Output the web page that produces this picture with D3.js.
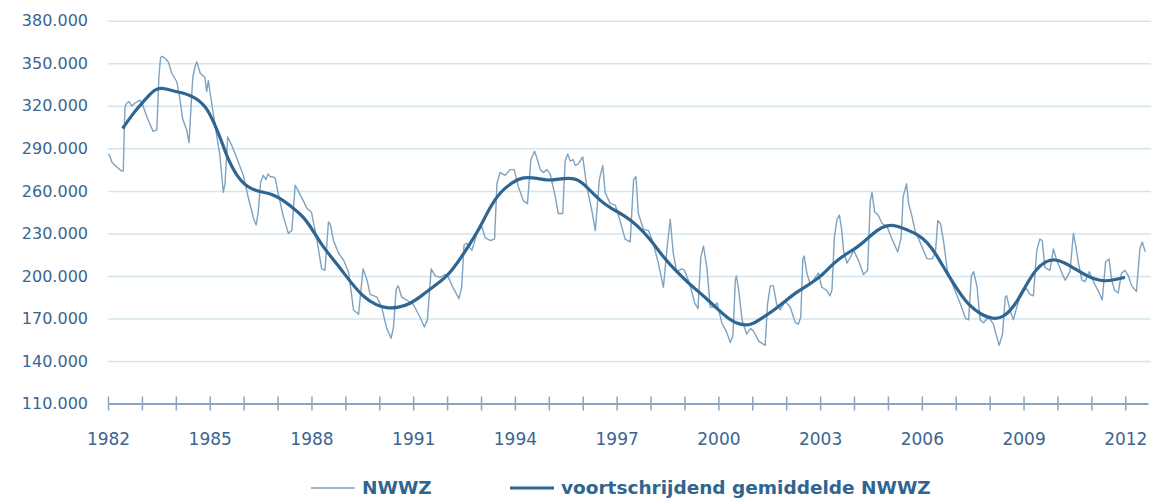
<!DOCTYPE html>
<html>
<head>
<meta charset="utf-8">
<script src="https://cdn.jsdelivr.net/npm/d3@7/dist/d3.min.js"></script>
<style>
  body { margin: 0; background: #fff; }
  text { font-family: "DejaVu Sans", sans-serif; }
</style>
</head>
<body>
<div id="chart"></div>
<script>
// NWWZ, in duizenden (decimaal jaar / waarde)
var nwwzT = [1982.00,1982.05,1982.12,1982.25,1982.40,1982.45,1982.50,1982.55,1982.62,1982.70,1982.80,1982.94,
  1983.02,1983.15,1983.33,1983.44,1983.50,1983.55,1983.60,1983.70,1983.78,1983.88,
  1984.03,1984.12,1984.20,1984.32,1984.39,1984.45,1984.50,1984.58,1984.62,1984.72,1984.86,1984.91,1984.96,
  1985.00,1985.16,1985.30,1985.40,1985.45,1985.53,1985.65,1985.80,1985.99,
  1986.14,1986.30,1986.37,1986.43,1986.50,1986.58,1986.66,1986.72,1986.78,1986.85,1986.93,
  1987.02,1987.17,1987.32,1987.42,1987.52,1987.61,1987.76,1987.86,
  1988.00,1988.15,1988.30,1988.40,1988.50,1988.55,1988.65,1988.80,1988.95,
  1989.10,1989.24,1989.39,1989.52,1989.64,1989.73,1989.93,
  1990.07,1990.22,1990.35,1990.42,1990.50,1990.56,1990.66,1990.81,
  1991.00,1991.20,1991.33,1991.42,1991.53,1991.65,1991.80,1991.94,
  1992.04,1992.19,1992.35,1992.43,1992.50,1992.58,1992.73,1992.88,
  1993.02,1993.12,1993.27,1993.40,1993.47,1993.56,1993.71,1993.86,1993.98,
  1994.10,1994.25,1994.37,1994.47,1994.58,1994.65,1994.75,1994.84,1994.94,
  1995.04,1995.19,1995.28,1995.41,1995.48,1995.56,1995.63,1995.72,1995.78,1995.87,
  1996.00,1996.12,1996.27,1996.37,1996.49,1996.59,1996.66,1996.81,1996.96,
  1997.10,1997.25,1997.40,1997.50,1997.57,1997.64,1997.79,1997.94,
  1998.08,1998.23,1998.38,1998.48,1998.58,1998.67,1998.77,1998.92,
  1999.00,1999.16,1999.30,1999.40,1999.48,1999.56,1999.66,1999.76,1999.86,1999.96,
  2000.10,2000.25,2000.35,2000.43,2000.50,2000.53,2000.60,2000.70,2000.83,2000.95,
  2001.04,2001.19,2001.38,2001.45,2001.53,2001.62,2001.72,2001.82,2001.97,
  2002.12,2002.27,2002.36,2002.43,2002.49,2002.53,2002.61,2002.71,2002.80,2002.95,
  2003.05,2003.19,2003.29,2003.35,2003.42,2003.50,2003.57,2003.64,2003.69,2003.79,2003.89,2003.99,
  2004.13,2004.28,2004.40,2004.48,2004.53,2004.61,2004.71,2004.83,2004.97,
  2005.12,2005.29,2005.39,2005.45,2005.55,2005.61,2005.71,2005.81,2005.91,
  2006.01,2006.16,2006.30,2006.40,2006.47,2006.55,2006.65,2006.75,2006.94,
  2007.14,2007.29,2007.38,2007.46,2007.53,2007.63,2007.72,2007.82,2007.97,
  2008.11,2008.21,2008.28,2008.38,2008.46,2008.50,2008.60,2008.70,2008.80,2008.94,
  2009.09,2009.19,2009.29,2009.39,2009.48,2009.55,2009.63,2009.78,2009.88,2009.98,
  2010.13,2010.23,2010.37,2010.47,2010.54,2010.62,2010.72,2010.81,2010.94,
  2011.06,2011.21,2011.32,2011.42,2011.52,2011.60,2011.68,2011.79,2011.89,2011.99,
  2012.09,2012.19,2012.33,2012.43,2012.50,2012.59];
var nwwzV = [286,285,280,277,274,274,319,322,323,320,322,324,
  321,312,302,303,340,354,355,353,351,343,
  337,325,311,303,294,320,340,349,351,343,340,330,338,
  331,306,285,259,265,298,292,283,271,
  255,240,236,245,266,271,268,272,270,270,269,
  258,242,230,232,264,260,253,248,
  245,227,205,204,238,237,225,216,211,
  202,176,173,205,197,187,185,
  178,163,156,164,191,193,185,183,
  180,171,164,169,205,200,199,201,
  199,191,184,192,222,223,218,230,
  235,227,225,226,265,273,271,275,275,
  263,253,251,282,288,283,275,273,275,
  272,256,244,244,281,286,281,282,278,279,
  284,263,246,232,268,278,259,251,250,
  239,226,224,268,270,244,233,232,
  223,209,192,218,240,216,203,205,
  204,194,181,177,213,221,206,178,178,181,
  167,160,153,158,197,200,190,169,159,163,
  161,154,151,180,193,193,180,176,182,
  178,167,166,171,212,214,202,194,197,202,
  192,190,186,190,227,240,243,232,218,209,213,218,
  211,201,204,253,259,245,243,237,235,
  226,217,227,256,265,251,242,231,226,
  220,212,212,216,239,237,223,204,192,
  180,170,169,200,203,192,169,167,171,
  166,157,151,159,185,186,176,169,178,189,
  191,187,186,218,226,225,206,204,219,211,
  202,197,203,230,221,209,197,196,203,
  196,189,183,210,212,197,190,188,202,204,
  200,193,189,219,224,217];

// voortschrijdend gemiddelde NWWZ
var avgT = [1982.43,1982.75,1983.04,1983.39,1983.55,1983.73,1984.00,1984.22,1984.45,1984.62,1984.80,1984.91,
  1985.05,1985.20,1985.35,1985.50,1985.65,1985.80,1986.00,1986.19,1986.40,1986.58,1986.80,
  1987.07,1987.46,1987.76,1988.05,1988.35,1988.74,1989.14,1989.53,1989.93,1990.22,1990.52,1990.91,
  1991.30,1991.69,1992.09,1992.58,1992.97,1993.27,1993.56,1993.91,1994.25,1994.65,1995.04,1995.43,1995.82,
  1996.12,1996.51,1996.81,1997.20,1997.60,1997.99,1998.38,1998.77,1999.16,1999.56,1999.96,
  2000.35,2000.65,2000.95,2001.25,2001.62,2001.91,2002.21,2002.61,2003.00,2003.39,2003.79,
  2004.09,2004.38,2004.68,2004.97,2005.27,2005.56,2005.86,2006.16,2006.45,2006.75,
  2007.14,2007.38,2007.77,2008.11,2008.41,2008.76,2009.05,2009.35,2009.63,2009.93,
  2010.23,2010.52,2010.81,2011.11,2011.41,2011.70,2011.99];
var avgV = [304,315,323,332,332.5,332,330,329,327,325,321,318,
  312,304,295,285,277,271,265,262,260,259,258,
  255,248,242,232,220,209,196,185,179,177.4,177.4,180,
  187,194,201.5,219,234,249,259,266,270,269,267,269,269,
  263,253,248,243,236,226,213,203,194,186,177,
  168.5,165.6,165,169.7,175.5,181,187,193,199,209,216,
  220,226,232.5,236,235.5,232.5,229.6,224,214.4,201.5,
  187,179.5,172.2,169.5,170.6,179.5,192.5,204.4,210.3,212,
  209.2,204.9,200.9,197.4,196.2,197.4,199];

var yTicks = [110,140,170,200,230,260,290,320,350,380];
var xLabelYears = [1982,1985,1988,1991,1994,1997,2000,2003,2006,2009,2012];
var xTickYears = d3.range(1982, 2013);
var seriesNames = ['NWWZ', 'voortschrijdend gemiddelde NWWZ'];

var W = 1151, H = 500;
var margin = {top: 20.8, left: 108, right: 3, bottom: 96.5};

var svg = d3.select('#chart').append('svg')
  .attr('width', W)
  .attr('height', H);

var x = d3.scaleLinear().domain([1982, 2012.67]).range([margin.left, W - margin.right]);
var y = d3.scaleLinear().domain([110, 380]).range([H - margin.bottom, margin.top]);

var nl = d3.formatLocale({decimal: ',', thousands: '.', grouping: [3], currency: ['', '']});
var fmt = nl.format(',');

// gridlines + y labels
var yAxis = svg.append('g')
  .attr('transform', 'translate(' + margin.left + ',0)')
  .call(d3.axisLeft(y).tickValues(yTicks).tickSize(-(W - margin.left)).tickPadding(20)
    .tickFormat(function(d){ return fmt(d * 1000); }));
yAxis.select('.domain').remove();
yAxis.selectAll('line')
  .attr('stroke', '#d3e5ec')
  .attr('stroke-width', 1.5)
  .filter(function(d){ return d === 110; }).remove();
yAxis.selectAll('text')
  .attr('fill', '#3a6591')
  .style('font-size', '16px');

// x axis
var xAxis = svg.append('g')
  .attr('transform', 'translate(0,' + y(110) + ')')
  .call(d3.axisBottom(x).tickValues(xTickYears).tickSizeInner(7).tickSizeOuter(0)
    .tickFormat(function(d){ return xLabelYears.indexOf(d) >= 0 ? d : ''; }).tickPadding(22));
xAxis.select('.domain').attr('stroke', '#8aa5bf').attr('stroke-width', 1.8);
xAxis.selectAll('line')
  .attr('stroke', '#8aa5bf')
  .attr('stroke-width', 1.5)
  .attr('y1', -7);
xAxis.selectAll('text')
  .attr('fill', '#3a6591')
  .style('font-size', '17px');

// lines
var nwwzData = nwwzT.map(function(t, i){ return [t, nwwzV[i]]; });
var avgData = avgT.map(function(t, i){ return [t, avgV[i]]; });

var thinLine = d3.line()
  .x(function(d){ return x(d[0]); })
  .y(function(d){ return y(d[1]); });

var avgLine = d3.line()
  .curve(d3.curveBasis)
  .x(function(d){ return x(d[0]); })
  .y(function(d){ return y(d[1]); });

svg.append('path')
  .datum(nwwzData)
  .attr('d', thinLine)
  .attr('fill', 'none')
  .attr('stroke', '#7ea2c0')
  .attr('stroke-width', 1.4)
  .attr('stroke-linejoin', 'round');

svg.append('path')
  .datum(avgData)
  .attr('d', avgLine)
  .attr('fill', 'none')
  .attr('stroke', '#2e6591')
  .attr('stroke-width', 3.2)
  .attr('stroke-linejoin', 'round');

// legend
var legend = [
  {name: seriesNames[0], x0: 311, color: '#7ea2c0', w: 1.6},
  {name: seriesNames[1], x0: 510, color: '#2e6591', w: 3.2}
];
var lg = svg.append('g');
lg.selectAll('line')
  .data(legend)
  .enter().append('line')
  .attr('x1', function(d){ return d.x0; })
  .attr('x2', function(d){ return d.x0 + 44; })
  .attr('y1', 488).attr('y2', 488)
  .attr('stroke', function(d){ return d.color; })
  .attr('stroke-width', function(d){ return d.w; });
lg.selectAll('text')
  .data(legend)
  .enter().append('text')
  .text(function(d){ return d.name; })
  .attr('x', function(d){ return d.x0 + 51; })
  .attr('y', 494)
  .attr('fill', '#2e6591')
  .style('font-size', '18.5px')
  .style('font-weight', 'bold');
</script>
</body>
</html>
